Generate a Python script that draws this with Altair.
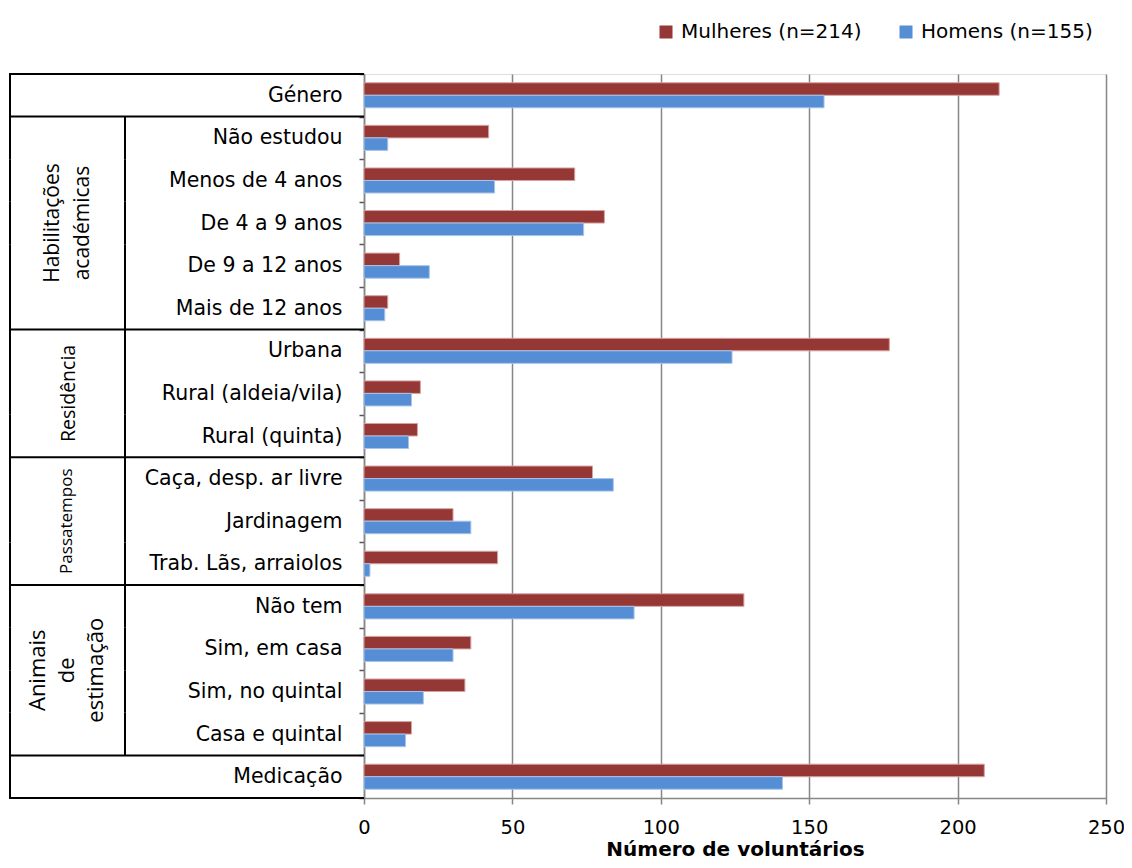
import altair as alt
import pandas as pd

categories = ["Género", "Não estudou", "Menos de 4 anos", "De 4 a 9 anos", "De 9 a 12 anos",
              "Mais de 12 anos", "Urbana", "Rural (aldeia/vila)", "Rural (quinta)",
              "Caça, desp. ar livre", "Jardinagem", "Trab. Lãs, arraiolos", "Não tem",
              "Sim, em casa", "Sim, no quintal", "Casa e quintal", "Medicação"]
mulheres = [214, 42, 71, 81, 12, 8, 177, 19, 18, 77, 30, 45, 128, 36, 34, 16, 209]
homens = [155, 8, 44, 74, 22, 7, 124, 16, 15, 84, 36, 2, 91, 30, 20, 14, 141]
series = ["Mulheres (n=214)", "Homens (n=155)"]
colors = ["#953735", "#558ED5"]
edge_colors = ["#D6A3A2", "#A8C4E8"]
x_ticks = [0, 50, 100, 150, 200, 250]
group_starts = ["Género", "Não estudou", "Urbana", "Caça, desp. ar livre", "Não tem", "Medicação"]
grouped_rows = categories[1:16]

FONT = "DejaVu Sans"
GFONT = "Open Sans"

rows = []
for c, m, h in zip(categories, mulheres, homens):
    rows.append({"cat": c, "serie": series[0], "valor": m})
    rows.append({"cat": c, "serie": series[1], "valor": h})
df = pd.DataFrame(rows)

yscale = alt.Scale(domain=categories, paddingInner=0, paddingOuter=0)
yaxis = alt.Axis(title=None, labelFontSize=20.5, labelColor="black", labelFont=FONT,
                 domainColor="#868686", domainWidth=1.5, tickBand="extent",
                 tickColor="#555555", tickSize=5, tickWidth=1.5, labelPadding=17,
                 labelLimit=400)


def Y(band=None):
    if band is None:
        return alt.Y("cat:N", scale=yscale, sort=categories, axis=yaxis)
    return alt.Y("cat:N", scale=yscale, sort=categories, axis=yaxis, bandPosition=band)


bars = alt.Chart(df).mark_bar(strokeWidth=1).encode(
    x=alt.X("valor:Q", scale=alt.Scale(domain=[0, 250]),
            axis=alt.Axis(values=x_ticks, grid=True, gridColor="#868686", gridWidth=1.5,
                          domainColor="#868686", domainWidth=1.5, tickColor="#868686", tickSize=6,
                          tickWidth=1.5, labelFontSize=19.5, labelColor="black", labelPadding=14,
                          labelFlush=False,
                          labelFont=FONT, title="Número de voluntários", titleFontSize=20,
                          titleFontWeight="bold", titleColor="black", titlePadding=3, titleFont=FONT)),
    y=Y(),
    yOffset=alt.YOffset("serie:N", sort=series,
                        scale=alt.Scale(domain=series, paddingInner=0, paddingOuter=0.7)),
    color=alt.Color("serie:N", sort=series,
                    scale=alt.Scale(domain=series, range=colors),
                    legend=alt.Legend(title=None, orient="none", legendX=292, legendY=-52,
                                      direction="horizontal", symbolType="square",
                                      symbolSize=169, symbolStrokeWidth=0, labelFontSize=20,
                                      labelFont=FONT, labelColor="black", labelOffset=5,
                                      columnPadding=34, labelLimit=300)),
    stroke=alt.Stroke("serie:N", sort=series,
                      scale=alt.Scale(domain=series, range=edge_colors), legend=None),
)

df_all = pd.DataFrame({"cat": categories})
df_grp = pd.DataFrame({"cat": grouped_rows})
df_starts = pd.DataFrame({"cat": group_starts})
df_end = pd.DataFrame({"cat": [categories[-1]]})

outer = alt.Chart(df_all).mark_rect(color="black").encode(
    x=alt.value(-355), x2=alt.value(-353), y=Y())
inner = alt.Chart(df_grp).mark_rect(color="black").encode(
    x=alt.value(-240), x2=alt.value(-238), y=Y())
hlines = alt.Chart(df_starts).mark_rule(color="black", strokeWidth=2).encode(
    x=alt.value(-355), x2=alt.value(0), y=Y(0))
bottom = alt.Chart(df_end).mark_rule(color="black", strokeWidth=2).encode(
    x=alt.value(-355), x2=alt.value(0), y=Y(1))


def glabel(text, cat, band, size, xpix, lh):
    d = pd.DataFrame({"cat": [cat], "t": [text]})
    return alt.Chart(d).mark_text(angle=270, fontSize=size, font=GFONT, color="black",
                                  align="center", baseline="middle", lineBreak="\n",
                                  lineHeight=lh).encode(
        x=alt.value(xpix), y=Y(band), text="t:N")


g1 = glabel("Habilitações\nacadémicas", "De 4 a 9 anos", 0.5, 21, -311, 30)
g2 = glabel("Residência", "Rural (aldeia/vila)", 0.5, 19.5, -295, 20)
g3 = glabel("Passatempos", "Jardinagem", 0.5, 17, -297, 18)
g4 = glabel("Animais\nde\nestimação", "Sim, no quintal", 0.0, 22, -326, 29)

chart = alt.layer(bars, outer, inner, hlines, bottom, g1, g2, g3, g4).properties(
    width=742, height=724,
    autosize=alt.AutoSizeParams(type="none"),
    padding={"left": 356, "top": 66, "right": 18, "bottom": 62},
).configure_view(stroke=None).configure(font=FONT)

chart.save("out.html", embed_options={"renderer": "svg", "actions": False})
